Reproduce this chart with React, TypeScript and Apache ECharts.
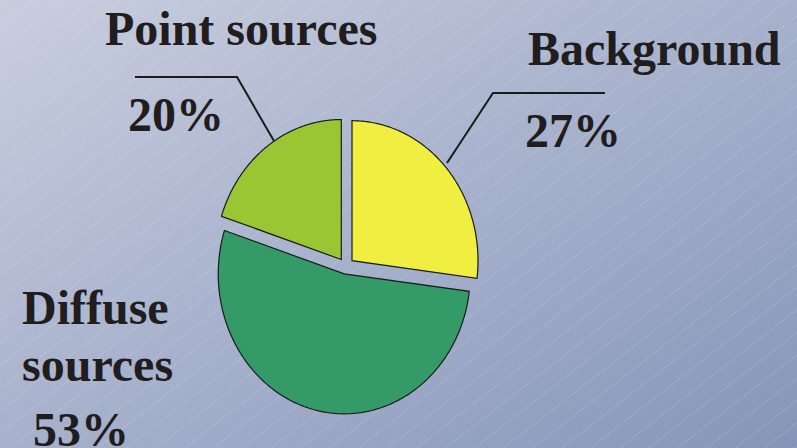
import React, { useEffect, useRef } from 'react';
import * as echarts from 'echarts';

const categories = ['Background', 'Diffuse sources', 'Point sources'];
const values = [27, 53, 20];
const sliceColors = ['#f0ee40', '#349b68', '#9bc634'];

export default function App() {
  const ref = useRef<HTMLDivElement>(null);
  useEffect(() => {
    document.body.style.margin = '0';
    const chart = echarts.init(ref.current as HTMLDivElement, null, { renderer: 'svg' });
    const total = values.reduce((a, b) => a + b, 0);
    const CX = 346, CY = 266, RX = 126, RY = 140, EXPLODE = 8;

    const renderItem = (params: any, api: any) => {
      const i = params.dataIndex;
      let before = 0;
      for (let k = 0; k < i; k++) before += values[k];
      const v = api.value(0);
      const a0 = (before / total) * 2 * Math.PI;
      const a1 = ((before + v) / total) * 2 * Math.PI;
      const am = (a0 + a1) / 2;
      const ox = CX + EXPLODE * Math.sin(am);
      const oy = CY - EXPLODE * Math.cos(am);
      const pts: number[][] = [[ox, oy]];
      const n = 160;
      for (let s = 0; s <= n; s++) {
        const t = a0 + ((a1 - a0) * s) / n;
        pts.push([ox + RX * Math.sin(t), oy - RY * Math.cos(t)]);
      }
      return {
        type: 'polygon',
        shape: { points: pts },
        style: { fill: sliceColors[i], stroke: '#1b1b1b', lineWidth: 1.2, lineJoin: 'miter' },
      };
    };

    const hatch: any[] = [];
    const slope = 0.78;
    const run = 448 / slope;
    for (let x0 = 5; x0 < 797 + run + 30; x0 += 29) {
      hatch.push({
        type: 'line',
        z: 0,
        silent: true,
        shape: { x1: x0, y1: 0, x2: x0 - run, y2: 448 },
        style: { stroke: 'rgba(255,255,255,0.33)', lineWidth: 0.7, lineDash: [2, 1] },
      });
    }

    const font = {
      fontFamily: '"Liberation Serif", "Times New Roman", serif',
      fontWeight: 'bold',
      fontSize: 48,
      fill: '#211d1e',
    };
    const txt = (text: string, x: number, y: number) => ({
      type: 'text',
      z: 10,
      x,
      y,
      style: { ...font, text, align: 'left', verticalAlign: 'middle', textAlign: 'left', textVerticalAlign: 'middle' },
    });
    const pct = (i: number) => `${Math.round((values[i] / total) * 100)}%`;
    const diffuseWords = categories[1].split(' ');

    const labels = [
      txt(categories[2], 105, 28),
      txt(pct(2), 128, 114),
      txt(categories[0], 528, 48),
      txt(pct(0), 525, 130),
      txt(diffuseWords[0], 22, 307),
      txt(diffuseWords[1], 22, 364),
      txt(pct(1), 33, 429),
    ];
    const leaders = [
      {
        type: 'polyline', z: 5,
        shape: { points: [[135, 77], [237, 77], [274, 141]] },
        style: { stroke: '#1b1b1b', lineWidth: 2, fill: 'none' },
      },
      {
        type: 'polyline', z: 5,
        shape: { points: [[605, 93], [493, 93], [447, 163]] },
        style: { stroke: '#1b1b1b', lineWidth: 2, fill: 'none' },
      },
    ];

    chart.setOption({
      animation: false,
      backgroundColor: new echarts.graphic.LinearGradient(0, 0, 1, 1, [
        { offset: 0, color: '#c9cedf' },
        { offset: 1, color: '#8595b9' },
      ]),
      graphic: [...hatch, ...leaders, ...labels],
      series: [
        {
          type: 'custom',
          coordinateSystem: 'none',
          z: 3,
          renderItem,
          data: values,
        },
      ],
    });
    return () => chart.dispose();
  }, []);
  return <div ref={ref} style={{ width: 797, height: 448 }} />;
}
